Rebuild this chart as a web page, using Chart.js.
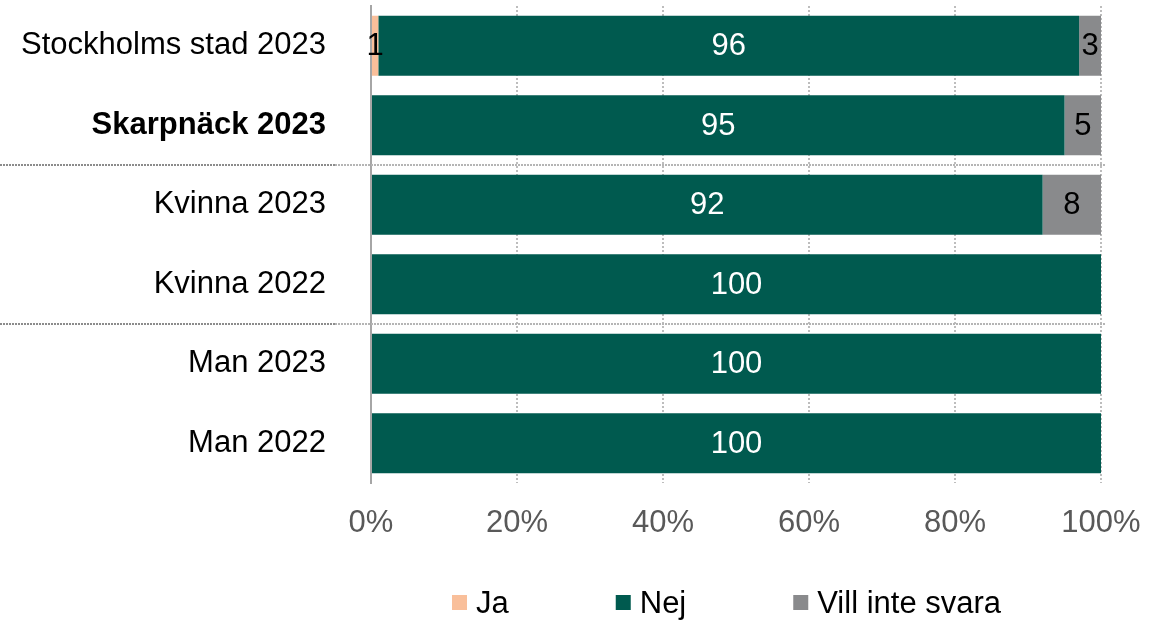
<!DOCTYPE html>
<html>
<head>
<meta charset="utf-8">
<script src="https://cdn.jsdelivr.net/npm/chart.js@4"></script>
<style>
  html, body { margin: 0; padding: 0; background: #fff; }
  #wrap { width: 1150px; height: 620px; }
</style>
</head>
<body>
<div id="wrap"><canvas id="svar"></canvas></div>
<script>
var kategorier = ['Stockholms stad 2023', 'Skarpnäck 2023', 'Kvinna 2023', 'Kvinna 2022', 'Man 2023', 'Man 2022'];
var ja = [1, 0, 0, 0, 0, 0];
var nej = [96, 95, 92, 100, 100, 100];
var villInte = [3, 5, 8, 0, 0, 0];
var xEtiketter = ['0%', '20%', '40%', '60%', '80%', '100%'];

var FONT = '"Liberation Sans", Arial, sans-serif';
var farger = { ja: '#F9BF9A', nej: '#005A4F', vill: '#898A8C' };

// siffror mitt i varje stapeldel
var vardeEtiketter = {
	id: 'vardeEtiketter',
	afterDatasetsDraw: function(chart) {
		var ctx = chart.ctx;
		ctx.save();
		ctx.font = '31px ' + FONT;
		ctx.textAlign = 'center';
		ctx.textBaseline = 'middle';
		chart.data.datasets.forEach(function(ds, di) {
			var meta = chart.getDatasetMeta(di);
			meta.data.forEach(function(bar, i) {
				var v = ds.data[i];
				if (!v) return;
				ctx.fillStyle = ds.labelColor;
				ctx.fillText(v, (bar.x + bar.base) / 2, bar.y + 1);
			});
		});
		ctx.restore();
	}
};

// streckade avdelare mellan grupperna
var avdelare = {
	id: 'avdelare',
	afterDraw: function(chart) {
		var y = chart.scales.y;
		var ctx = chart.ctx;
		ctx.save();
		ctx.lineWidth = 2;
		ctx.setLineDash([2, 1]);
		[1, 3].forEach(function(i) {
			var py = Math.round((y.getPixelForValue(i) + y.getPixelForValue(i + 1)) / 2);
			ctx.strokeStyle = '#8c8c8c';
			ctx.beginPath();
			ctx.moveTo(0, py);
			ctx.lineTo(335, py);
			ctx.stroke();
			ctx.strokeStyle = '#b5b5b5';
			ctx.beginPath();
			ctx.moveTo(335, py);
			ctx.lineTo(chart.chartArea.right + 5, py);
			ctx.stroke();
		});
		ctx.restore();
	}
};

// förklaring längst ner
var forklaring = {
	id: 'forklaring',
	afterDraw: function(chart) {
		var ctx = chart.ctx;
		ctx.save();
		ctx.font = '31px ' + FONT;
		ctx.textBaseline = 'middle';
		var x = 452, y = 603;
		chart.data.datasets.forEach(function(ds) {
			ctx.fillStyle = ds.backgroundColor;
			ctx.fillRect(x, y - 8, 15, 15);
			ctx.fillStyle = '#000';
			ctx.fillText(ds.label, x + 24, y + 1);
			x += 24 + ctx.measureText(ds.label).width + 107;
		});
		ctx.restore();
	}
};

var ctx = document.getElementById('svar');

var chart = new Chart(ctx, {
	type: 'bar',
	data: {
		labels: kategorier,
		datasets: [
			{ label: 'Ja', data: ja, backgroundColor: farger.ja, labelColor: '#000' },
			{ label: 'Nej', data: nej, backgroundColor: farger.nej, labelColor: '#fff' },
			{ label: 'Vill inte svara', data: villInte, backgroundColor: farger.vill, labelColor: '#000' }
		]
	},
	options: {
		indexAxis: 'y',
		responsive: true,
		maintainAspectRatio: false,
		animation: false,
		events: [],
		layout: { padding: { top: 6, right: 49, left: 0, bottom: 0 } },
		datasets: { bar: { categoryPercentage: 0.755, barPercentage: 1 } },
		plugins: {
			legend: { display: false },
			tooltip: { enabled: false }
		},
		scales: {
			x: {
				stacked: true,
				min: 0,
				max: 100,
				ticks: {
					stepSize: 20,
					padding: 22,
					color: '#595959',
					font: { family: FONT, size: 31 },
					callback: function(v, i) { return xEtiketter[i]; }
				},
				grid: {
					drawTicks: false,
					color: function(c) { return c.tick && c.tick.value === 0 ? 'rgba(0,0,0,0)' : '#bdbdbd'; },
					lineWidth: 2
				},
				border: { display: false, dash: [2, 2] },
				afterFit: function(s) {
					s.height = 137;
					s.paddingLeft = 0;
					s.paddingRight = 0;
				}
			},
			y: {
				stacked: true,
				ticks: {
					padding: 45,
					color: '#000',
					font: function(c) {
						return { family: FONT, size: 31, weight: c.index === 1 ? 'bold' : 'normal' };
					}
				},
				grid: { display: false, drawTicks: false },
				border: { display: true, color: '#a6a6a6', width: 2 },
				afterFit: function(s) {
					s.width = 371;
					s.paddingTop = 0;
					s.paddingBottom = 0;
				}
			}
		}
	},
	plugins: [vardeEtiketter, avdelare, forklaring]
});
</script>
</body>
</html>
